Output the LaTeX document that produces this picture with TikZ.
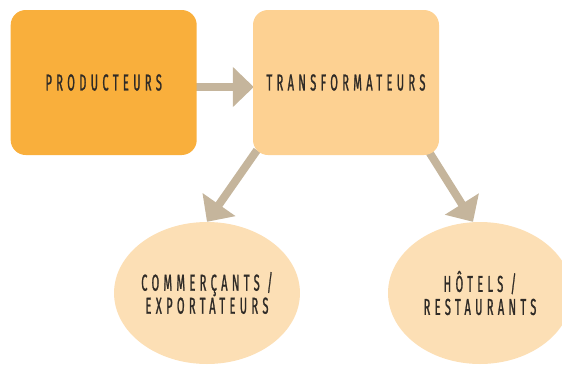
\documentclass[tikz,border=0pt]{standalone}
\usepackage{fontspec}
\usetikzlibrary{shapes.geometric,arrows.meta,backgrounds}
\newfontfamily\chainfont[FakeStretch=0.48,LetterSpace=19,FakeBold=1.0]{Fira Sans}
\definecolor{prodorange}{HTML}{F9AF3C}
\definecolor{transorange}{HTML}{FDD192}
\definecolor{marketbeige}{HTML}{FCDFB5}
\definecolor{flowgray}{HTML}{C5B59C}
\definecolor{labelgray}{HTML}{2E2A26}
\tikzset{
  chainlabel/.style={text=labelgray, font=\chainfont\fontsize{23}{23}\selectfont, align=center},
  stagebox/.style={chainlabel, rectangle, rounded corners=15pt, minimum width=186pt, minimum height=145pt, inner sep=0pt},
  marketblob/.style={chainlabel, ellipse, fill=marketbeige, minimum width=184pt, minimum height=142pt, inner sep=0pt},
  flow/.style={draw=flowgray, line width=8pt, -{Triangle[width=39pt,length=21pt]}}
}
\begin{document}
\begin{tikzpicture}[x=1pt,y=-1pt]
    \useasboundingbox (0,0) rectangle (562,365);
    \clip (0,0) rectangle (562,365);

    % Top row
    \node[stagebox, fill=prodorange] (prod) at (103.7,82.5) {PRODUCTEURS};
    \node[stagebox, fill=transorange] (trans) at (346,82.5) {TRANSFORMATEURS};

    % Bottom row
    \node[marketblob] (comm) at (207,293) {COMMERÇANTS /\\EXPORTATEURS};
    \node[marketblob] (hotel) at (480,293) {HÔTELS /\\RESTAURANTS};

    % Flows
    \begin{scope}[on background layer]
        \draw[flow, line cap=round] ([xshift=-2pt,yshift=-4.5pt]prod.east) -- ([xshift=1pt,yshift=-4.5pt]trans.west);
        \draw[flow] ([xshift=-89pt,yshift=5pt]trans.south) -- (comm.north);
        \draw[flow] ([xshift=82pt,yshift=5pt]trans.south) -- ([xshift=-7pt]hotel.north);
    \end{scope}
\end{tikzpicture}
\end{document}
